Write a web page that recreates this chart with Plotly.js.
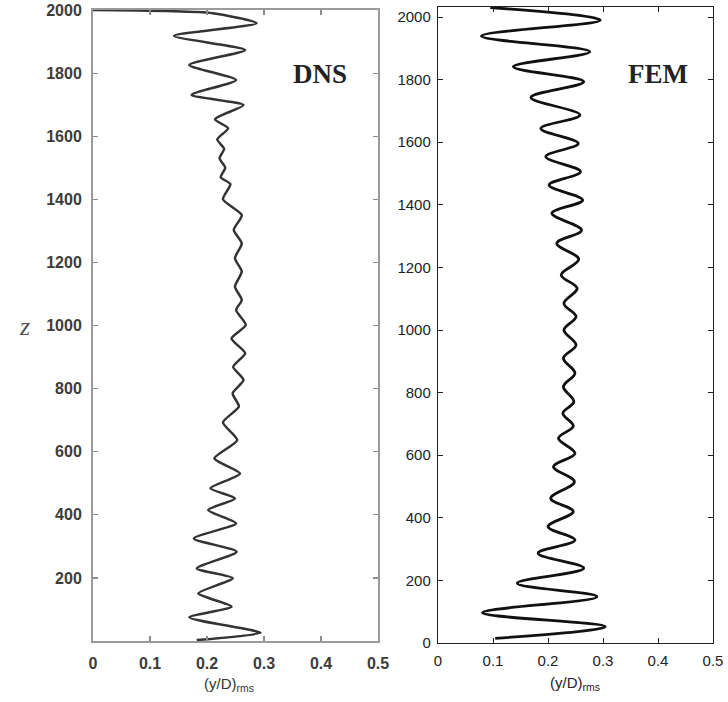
<!DOCTYPE html>
<html>
<head>
<meta charset="utf-8">
<script src="https://cdn.plot.ly/plotly-3.0.1.min.js"></script>
<style>html,body{margin:0;padding:0;background:#fff;}#chart{width:728px;height:702px;}</style>
</head>
<body>
<div id="chart"></div>
<script>
// DNS profile: height z and rms amplitude (y/D)rms
const dnsZ = [2000,1990,1958,1918,1873,1826,1778,1731,1699,1654,1625,1590,1560,1530,1500,1470,1448,1400,1350,1303,1260,1213,1171,1123,1081,1049,1002,959,912,869,827,785,743,693,637,579,531,484,452,415,373,325,283,230,199,151,109,75,26,3];
const dnsX = [0.000,0.210,0.287,0.142,0.267,0.169,0.251,0.173,0.264,0.214,0.237,0.218,0.230,0.222,0.232,0.224,0.241,0.228,0.261,0.247,0.261,0.249,0.261,0.249,0.261,0.251,0.268,0.243,0.267,0.246,0.264,0.245,0.256,0.228,0.253,0.213,0.258,0.206,0.249,0.202,0.251,0.177,0.252,0.182,0.245,0.185,0.243,0.169,0.294,0.182];

// FEM profile
const femZ = [2030,1990,1939,1889,1841,1793,1743,1687,1644,1596,1554,1506,1463,1415,1373,1319,1277,1226,1176,1133,1085,1043,1000,952,910,862,819,771,734,693,654,606,563,515,462,420,372,329,287,239,191,148,97,52,15];
const femX = [0.095,0.295,0.079,0.276,0.137,0.265,0.169,0.258,0.187,0.255,0.196,0.259,0.202,0.263,0.207,0.261,0.216,0.256,0.224,0.253,0.229,0.251,0.229,0.251,0.228,0.249,0.228,0.247,0.227,0.246,0.219,0.249,0.210,0.248,0.205,0.246,0.200,0.249,0.182,0.265,0.144,0.289,0.081,0.304,0.104];

// tick labels
const xTickVals = [0,0.1,0.2,0.3,0.4,0.5];
const xTickText = ['0','0.1','0.2','0.3','0.4','0.5'];
const yTickValsDNS = [200,400,600,800,1000,1200,1400,1600,1800,2000];
const yTickValsFEM = [0,200,400,600,800,1000,1200,1400,1600,1800,2000];
const yTickText = v => v.map(String);

const W = 728, H = 702;
const px = v => v / W;
const py = v => 1 - v / H;

const traces = [
  {x: dnsX, y: dnsZ, xaxis: 'x', yaxis: 'y', mode: 'lines', hoverinfo: 'skip',
   line: {color: '#333333', width: 2.5, shape: 'spline', smoothing: 0.6}},
  {x: femX, y: femZ, xaxis: 'x2', yaxis: 'y2', mode: 'lines', hoverinfo: 'skip',
   line: {color: '#111111', width: 2.8, shape: 'spline', smoothing: 1}}
];

const leftFont = {family: 'Liberation Sans, Arial, sans-serif', size: 16, color: '#3c3c3c', weight: 'bold'};
const rightFont = {family: 'Liberation Sans, Arial, sans-serif', size: 15, color: '#222222'};

const layout = {
  width: W, height: H,
  margin: {l: 0, r: 0, t: 0, b: 0},
  paper_bgcolor: '#ffffff', plot_bgcolor: '#ffffff',
  showlegend: false,
  xaxis: {domain: [px(93), px(378)], range: [0, 0.5], anchor: 'y',
    tickvals: xTickVals, ticktext: xTickText, ticks: 'inside', ticklen: 5, tickwidth: 1.2,
    tickcolor: '#8c8c8c', showline: true, linecolor: '#9a9a9a', linewidth: 2, mirror: 'ticks',
    showgrid: false, zeroline: false, tickfont: leftFont, ticklabelstandoff: 7},
  yaxis: {domain: [py(641), py(10)], range: [0, 2000], anchor: 'x',
    tickvals: yTickValsDNS, ticktext: yTickText(yTickValsDNS), ticks: 'inside', ticklen: 5, tickwidth: 1.2,
    tickcolor: '#8c8c8c', showline: true, linecolor: '#9a9a9a', linewidth: 2, mirror: 'ticks',
    showgrid: false, zeroline: false, tickfont: leftFont, ticklabelstandoff: 6},
  xaxis2: {domain: [px(438), px(713)], range: [0, 0.5], anchor: 'y2',
    tickvals: xTickVals, ticktext: xTickText, ticks: 'inside', ticklen: 5, tickwidth: 1,
    tickcolor: '#222', showline: true, linecolor: '#222', linewidth: 1.2, mirror: 'ticks',
    showgrid: false, zeroline: false, tickfont: rightFont, ticklabelstandoff: 4},
  yaxis2: {domain: [py(643), py(7)], range: [0, 2032], anchor: 'x2',
    tickvals: yTickValsFEM, ticktext: yTickText(yTickValsFEM), ticks: 'inside', ticklen: 5, tickwidth: 1,
    tickcolor: '#222', showline: true, linecolor: '#222', linewidth: 1.2, mirror: 'ticks',
    showgrid: false, zeroline: false, tickfont: rightFont, ticklabelstandoff: 3},
  annotations: [
    {xref: 'paper', yref: 'paper', x: px(320), y: py(74), text: '<b>DNS</b>', showarrow: false,
     xanchor: 'center', yanchor: 'middle',
     font: {family: 'Liberation Serif, Times New Roman, serif', size: 27, color: '#222'}},
    {xref: 'paper', yref: 'paper', x: px(658), y: py(74), text: '<b>FEM</b>', showarrow: false,
     xanchor: 'center', yanchor: 'middle',
     font: {family: 'Liberation Serif, Times New Roman, serif', size: 27, color: '#222'}},
    {xref: 'paper', yref: 'paper', x: px(229), y: py(684), text: '(y/D)<sub>rms</sub>', showarrow: false,
     xanchor: 'center', yanchor: 'middle',
     font: {family: 'Liberation Sans, Arial, sans-serif', size: 15, color: '#333'}},
    {xref: 'paper', yref: 'paper', x: px(575), y: py(683), text: '(y/D)<sub>rms</sub>', showarrow: false,
     xanchor: 'center', yanchor: 'middle',
     font: {family: 'Liberation Sans, Arial, sans-serif', size: 15, color: '#222'}},
    {xref: 'paper', yref: 'paper', x: px(24), y: py(326), text: '<i>z</i>', showarrow: false,
     xanchor: 'center', yanchor: 'middle',
     font: {family: 'Liberation Serif, Times New Roman, serif', size: 26, color: '#555'}}
  ]
};

Plotly.newPlot('chart', traces, layout, {staticPlot: true, displayModeBar: false});
</script>
</body>
</html>
